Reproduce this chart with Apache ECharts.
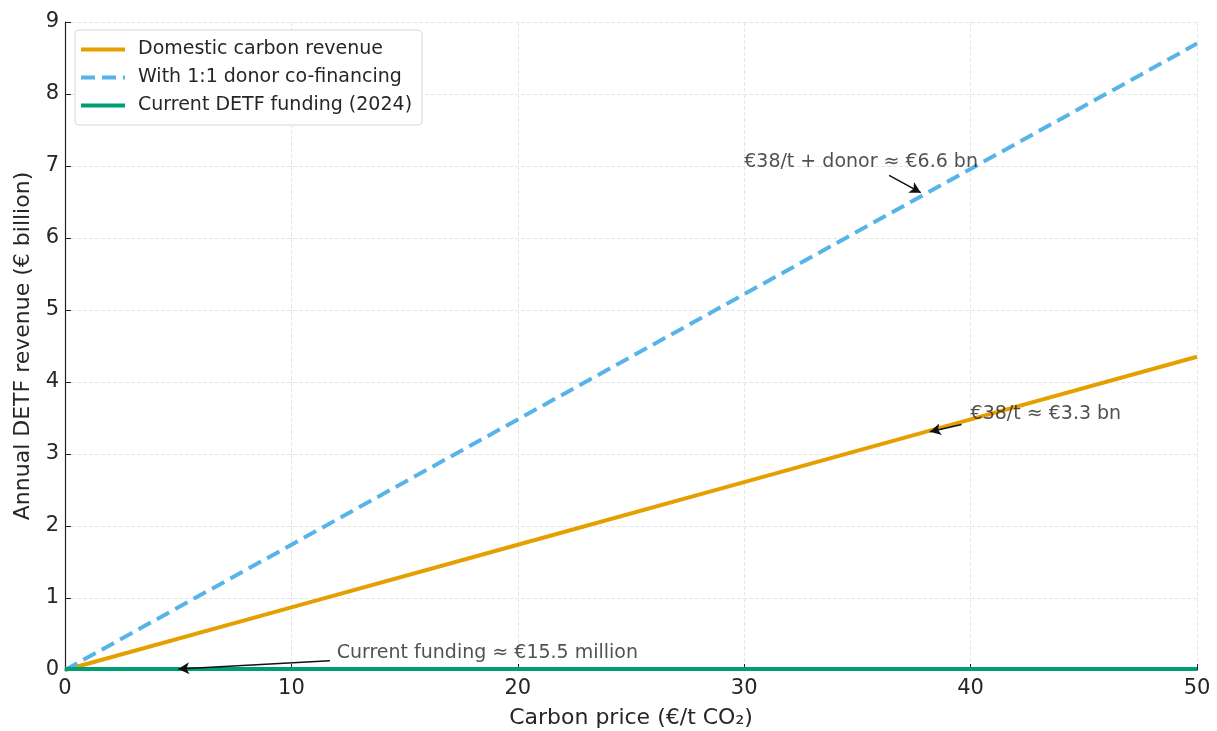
<!DOCTYPE html>
<html>
<head>
<meta charset="utf-8">
<script src="https://cdn.jsdelivr.net/npm/echarts@6/dist/echarts.min.js"></script>
<style>
html, body { margin: 0; padding: 0; background: #fff; }
#container { width: 1217px; height: 731px; }
</style>
</head>
<body>
<div id="container"></div>
<script>
// carbon price (€/t) and revenue (€ bn)
var prices = [0, 10, 20, 30, 40, 50];
var domestic = [0, 0.87, 1.74, 2.61, 3.48, 4.35];
var withDonor = [0, 1.74, 3.48, 5.22, 6.96, 8.7];
var current = [0.0155, 0.0155, 0.0155, 0.0155, 0.0155, 0.0155];

var seriesNames = ['Domestic carbon revenue', 'With 1:1 donor co-financing', 'Current DETF funding (2024)'];

// annotations: text position, arrow tail, arrow head
var notes = [
	{ text: '€38/t + donor ≈ €6.6 bn', at: [30, 7.06], from: [36.4, 6.87], to: [37.8, 6.63] },
	{ text: '€38/t ≈ €3.3 bn', at: [40, 3.56], from: [39.6, 3.41], to: [38.2, 3.31] },
	{ text: 'Current funding ≈ €15.5 million', at: [12, 0.23], from: [11.7, 0.13], to: [5, 0.0155] }
];

var font = 'DejaVu Sans';

function pairs(ys) {
	return prices.map(function (x, i) { return [x, ys[i]]; });
}

var option = {
	animation: false,
	textStyle: { fontFamily: font },
	grid: { left: 65, right: 20, top: 22, bottom: 61, outerBoundsMode: 'none', containLabel: false },
	legend: {
		data: seriesNames,
		orient: 'vertical',
		left: 75,
		top: 30,
		padding: [10, 10, 10, 4],
		itemGap: 9,
		itemWidth: 44,
		itemHeight: 14,
		borderColor: '#d6d6d6',
		borderWidth: 1,
		borderRadius: 4,
		backgroundColor: '#fff',
		itemStyle: { opacity: 0 },
		lineStyle: { width: 4 },
		textStyle: { fontFamily: font, fontSize: 19, color: '#262626', padding: [0, 0, 0, 8] }
	},
	xAxis: {
		type: 'value',
		min: 0, max: 50, interval: 10,
		name: 'Carbon price (€/t CO₂)',
		nameLocation: 'middle',
		nameGap: 37,
		nameTextStyle: { fontFamily: font, fontSize: 22, color: '#262626' },
		axisLine: { show: true, lineStyle: { color: '#222', width: 1.2 } },
		axisTick: { show: true, inside: true, length: 6, lineStyle: { color: '#222' } },
		axisLabel: { fontFamily: font, fontSize: 21, color: '#262626', margin: 8 },
		splitLine: { show: true, lineStyle: { color: '#e6e6e6', type: 'dashed' } }
	},
	yAxis: {
		type: 'value',
		min: 0, max: 9, interval: 1,
		name: 'Annual DETF revenue (€ billion)',
		nameLocation: 'middle',
		nameGap: 28,
		nameTextStyle: { fontFamily: font, fontSize: 22, color: '#262626' },
		axisLine: { show: true, lineStyle: { color: '#222', width: 1.2 } },
		axisTick: { show: true, inside: true, length: 6, lineStyle: { color: '#222' } },
		axisLabel: { fontFamily: font, fontSize: 21, color: '#262626', margin: 6 },
		splitLine: { show: true, lineStyle: { color: '#e6e6e6', type: 'dashed' } }
	},
	series: [
		{
			name: seriesNames[0],
			type: 'line',
			data: pairs(domestic),
			symbol: 'none',
			lineStyle: { color: '#E69F00', width: 4 },
			itemStyle: { color: '#E69F00' },
			z: 3
		},
		{
			name: seriesNames[1],
			type: 'line',
			data: pairs(withDonor),
			symbol: 'none',
			lineStyle: { color: '#56B4E9', width: 4, type: [14, 7] },
			itemStyle: { color: '#56B4E9' },
			z: 3
		},
		{
			name: seriesNames[2],
			type: 'line',
			data: pairs(current),
			symbol: 'none',
			lineStyle: { color: '#009E73', width: 4 },
			itemStyle: { color: '#009E73' },
			z: 4
		},
		{
			name: 'notes',
			type: 'scatter',
			symbolSize: 0,
			z: 5,
			data: notes.map(function (n) { return { value: n.at, name: n.text }; }),
			label: {
				show: true,
				position: 'right',
				distance: 0,
				formatter: '{b}',
				fontFamily: font,
				fontSize: 19,
				color: '#262626'
			},
			markLine: {
				silent: true,
				symbol: ['none', 'arrow'],
				symbolSize: [9, 11],
				label: { show: false },
				lineStyle: { color: '#111', width: 1.5, type: 'solid' },
				data: notes.map(function (n) {
					return [{ coord: n.from }, { coord: n.to }];
				})
			}
		}
	]
};

var myChart = echarts.init(document.getElementById('container'));
myChart.setOption(option);
</script>
</body>
</html>
